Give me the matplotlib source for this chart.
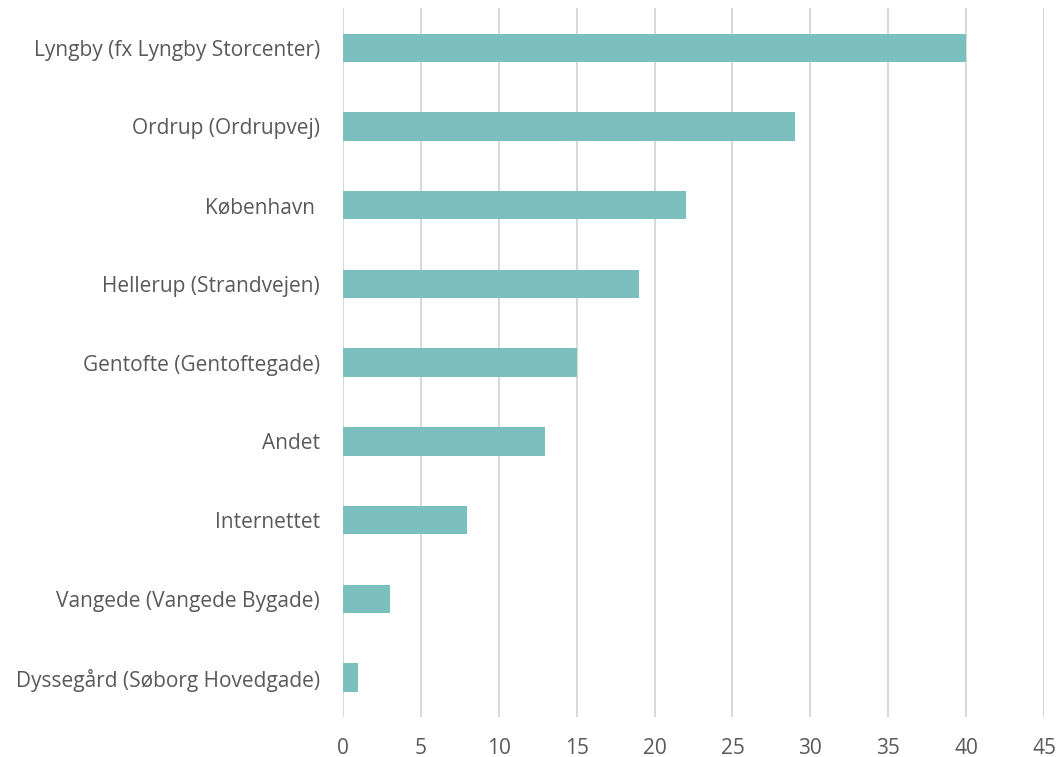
import matplotlib.pyplot as plt
import numpy as np

plt.rcParams['font.family'] = ['Open Sans', 'DejaVu Sans']

categories = [
    'Lyngby (fx Lyngby Storcenter)',
    'Ordrup (Ordrupvej)',
    'København ',
    'Hellerup (Strandvejen)',
    'Gentofte (Gentoftegade)',
    'Andet',
    'Internettet',
    'Vangede (Vangede Bygade)',
    'Dyssegård (Søborg Hovedgade)',
]
values = [40, 29, 22, 19, 15, 13, 8, 3, 1]
xticks = [0, 5, 10, 15, 20, 25, 30, 35, 40, 45]

text_color = '#595959'
bar_color = '#7BBFBF'

fig = plt.figure(figsize=(10.58, 7.57), dpi=100)
ax = fig.add_axes([0.324, 0.053, 0.663, 0.936])

y = np.arange(len(categories))[::-1]
ax.barh(y, values, height=0.36, color=bar_color, zorder=3)

ax.set_xlim(0, 45)
ax.set_ylim(-0.5, len(categories) - 0.5)
ax.set_xticks(xticks)
ax.set_yticks(y)
ax.set_yticklabels(categories)

# vertical grid lines, no frame
ax.grid(True, axis='x', color='#D9D9D9', linewidth=1.5, zorder=0)
for s in ax.spines.values():
    s.set_visible(False)

ax.tick_params(axis='both', length=0, labelsize=15, labelcolor=text_color)
ax.tick_params(axis='x', pad=15)
ax.tick_params(axis='y', pad=16.5)

fig.savefig('out.png', dpi=100)
